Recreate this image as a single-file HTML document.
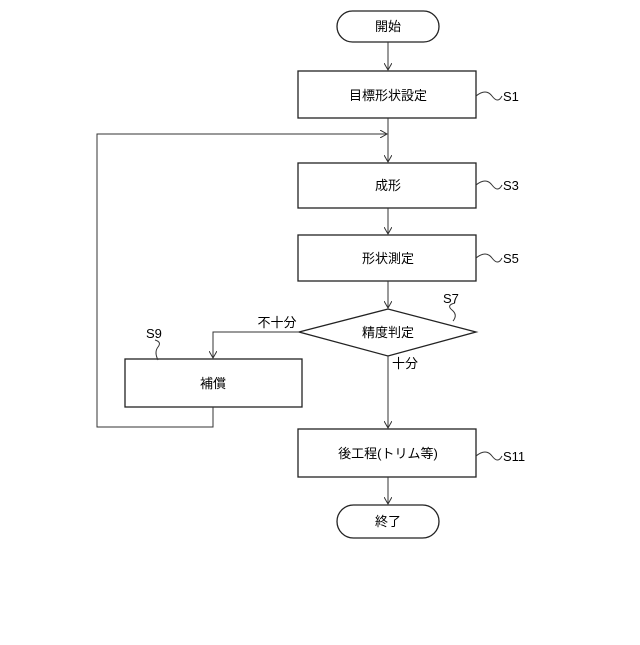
<!DOCTYPE html>
<html><head><meta charset="utf-8"><style>
html,body{margin:0;padding:0;background:#fff;}
svg text{font-family:"Liberation Sans","Noto Sans CJK JP",sans-serif;font-size:13px;fill:#000;}
</style></head><body>
<svg width="640" height="640" viewBox="0 0 640 640" xmlns="http://www.w3.org/2000/svg">
<defs><marker id="a" markerWidth="8" markerHeight="8" refX="7" refY="4" orient="auto" markerUnits="userSpaceOnUse"><path d="M0,0 L7,4 L0,8" fill="none" stroke="#333" stroke-width="1"/></marker></defs>
<g fill="none" stroke="#222" stroke-width="1.3">
<rect x="337" y="11" width="102" height="31" rx="15.5"/>
<rect x="298" y="71" width="178" height="47"/>
<rect x="298" y="163" width="178" height="45"/>
<rect x="298" y="235" width="178" height="46"/>
<polygon points="299,332 388,309 476,332 388,356"/>
<rect x="125" y="359" width="177" height="48"/>
<rect x="298" y="429" width="178" height="48"/>
<rect x="337" y="505" width="102" height="33" rx="16.5"/>
</g>
<g fill="none" stroke="#333" stroke-width="1">
<line x1="388" y1="42" x2="388" y2="70" marker-end="url(#a)"/>
<line x1="388" y1="118" x2="388" y2="162" marker-end="url(#a)"/>
<line x1="388" y1="208" x2="388" y2="234" marker-end="url(#a)"/>
<line x1="388" y1="281" x2="388" y2="308" marker-end="url(#a)"/>
<line x1="388" y1="356" x2="388" y2="428" marker-end="url(#a)"/>
<line x1="388" y1="477" x2="388" y2="504" marker-end="url(#a)"/>
<polyline points="299,332 213,332 213,358" marker-end="url(#a)"/>
<polyline points="213,407 213,427 97,427 97,134 387,134" marker-end="url(#a)"/>
<path d="M476,96 Q486,88 492,96 T502,96"/>
<path d="M476,185 Q486,177 492,185 T502,185"/>
<path d="M476,258 Q486,250 492,258 T502,258"/>
<path d="M476,456 Q486,448 492,456 T502,456"/>
<path d="M453,321 Q458,315 452,310 T455,303"/>
<path d="M158,360 Q154,352 158,347 T155,340"/>
</g>
<g text-anchor="middle">
<text x="388" y="31">開始</text>
<text x="388" y="100">目標形状設定</text>
<text x="388" y="190">成形</text>
<text x="388" y="263">形状測定</text>
<text x="388" y="337">精度判定</text>
<text x="213" y="388">補償</text>
<text x="388" y="458">後工程(トリム等)</text>
<text x="388" y="526">終了</text>
<text x="277" y="327">不十分</text>
<text x="405" y="368">十分</text>
</g>
<text x="503" y="101">S1</text>
<text x="503" y="190">S3</text>
<text x="503" y="263">S5</text>
<text x="503" y="461">S11</text>
<text x="443" y="303">S7</text>
<text x="146" y="338">S9</text>
</svg>
</body></html>
